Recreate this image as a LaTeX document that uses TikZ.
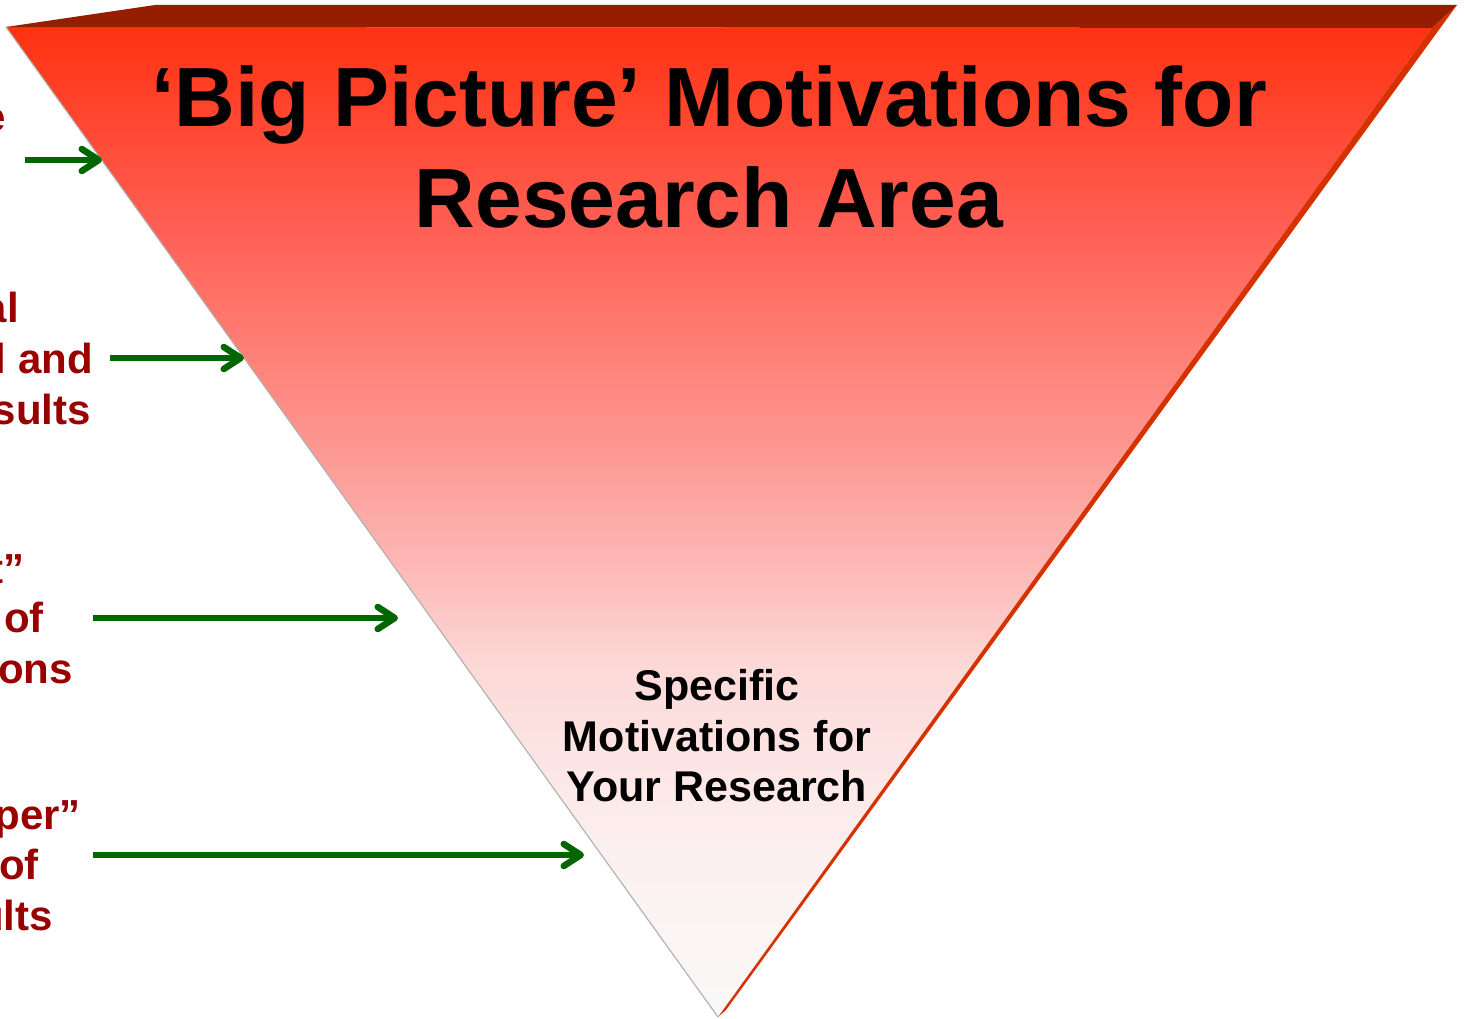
\documentclass[tikz,border=0pt]{standalone}
\usepackage{fontspec}
\setmainfont{Liberation Sans}
\usetikzlibrary{arrows.meta}

% colours
\definecolor{bandred}{RGB}{150,30,0}
\definecolor{sidered}{RGB}{214,50,0}
\definecolor{labelred}{RGB}{153,0,0}
\definecolor{arrowgreen}{RGB}{0,102,0}
\definecolor{edgegray}{RGB}{175,175,175}
% stops of the fade on the front face, bottom to top
\definecolor{fc0}{RGB}{250,248,248}
\definecolor{fc1}{RGB}{252,240,240}
\definecolor{fc2}{RGB}{252,218,216}
\definecolor{fc3}{RGB}{252,182,180}
\definecolor{fc4}{RGB}{253,152,146}
\definecolor{fc5}{RGB}{255,125,115}
\definecolor{fc6}{RGB}{255,95,85}
\definecolor{fc7}{RGB}{255,50,17}

\pgfdeclareverticalshading{facefade}{100bp}{%
  color(0bp)=(fc0); color(25bp)=(fc0); color(33.4bp)=(fc1);
  color(42.5bp)=(fc2); color(48.1bp)=(fc3); color(53.7bp)=(fc4);
  color(59.2bp)=(fc5); color(64.8bp)=(fc6); color(75bp)=(fc7);
  color(100bp)=(fc7)}

\tikzset{
  titletext/.style={font=\bfseries\fontsize{84}{101}\selectfont,
    anchor=base, inner sep=0pt, text=black},
  spectext/.style={font=\bfseries\fontsize{43}{51}\selectfont,
    anchor=base, inner sep=0pt, text=black},
  sidetext/.style={font=\bfseries\fontsize{42}{51}\selectfont,
    anchor=base east, inner sep=0pt, text=labelred},
  link/.style={draw=arrowgreen, line width=6.5pt,
    -{Straight Barb[length=17pt,width=22pt,round]}},
}

\begin{document}
\begin{tikzpicture}[x=1pt,y=-1pt]
\useasboundingbox (0,0) rectangle (1464,1019);
\clip (0,0) rectangle (1464,1019);
\fill[white] (0,0) rectangle (1464,1019);

% inverted pyramid: front face, right side face, top face
\coordinate (tl) at (6,27);
\coordinate (tr) at (1432,28);
\coordinate (apex) at (718,1017);
\coordinate (backl) at (155,5);
\coordinate (backr) at (1457,5);
\coordinate (backapex) at (726,1010);

\shade[shading=facefade] (tl) -- (tr) -- (apex) -- cycle;
\fill[sidered] (tr) -- (backr) -- (backapex) -- (apex) -- cycle;
\fill[bandred] (tl) -- (backl) -- (backr) -- (tr) -- cycle;
\draw[edgegray, line width=1.1pt] (tl) -- (apex);

% headings inside the pyramid
\node[titletext] (t1) at (709,127) {‘Big Picture’ Motivations for};
\node[titletext] (t2) at (709,228) {Research Area};
\node[spectext] (s1) at (717,700) {Specific};
\node[spectext] (s2) at (717,751) {Motivations for};
\node[spectext] (s3) at (717,801) {Your Research};

% labels on the left
\node[sidetext] (l1a) at (6,132) {Societal importance};
\node[sidetext] (l2a) at (19,322) {Potential};
\node[sidetext] (l2b) at (93,373) {theoretical and};
\node[sidetext] (l2c) at (91,424) {practical results};
\node[sidetext] (l3a) at (25,583) {“State of the art”};
\node[sidetext] (l3b) at (44,632) {and review of};
\node[sidetext] (l3c) at (73,683) {recent publications};
\node[sidetext] (l4a) at (81,829) {“Deeper”};
\node[sidetext] (l4b) at (39,879) {analysis of};
\node[sidetext] (l4c) at (53,930) {earlier results};

% arrows pointing into the pyramid
\coordinate (a1s) at (25,160);  \coordinate (a1e) at (102,160);
\coordinate (a2s) at (110,358); \coordinate (a2e) at (244,358);
\coordinate (a3s) at (93,618);  \coordinate (a3e) at (398,618);
\coordinate (a4s) at (93,855);  \coordinate (a4e) at (584,855);
\draw[link] (a1s) -- (a1e);
\draw[link] (a2s) -- (a2e);
\draw[link] (a3s) -- (a3e);
\draw[link] (a4s) -- (a4e);
\end{tikzpicture}
\end{document}
